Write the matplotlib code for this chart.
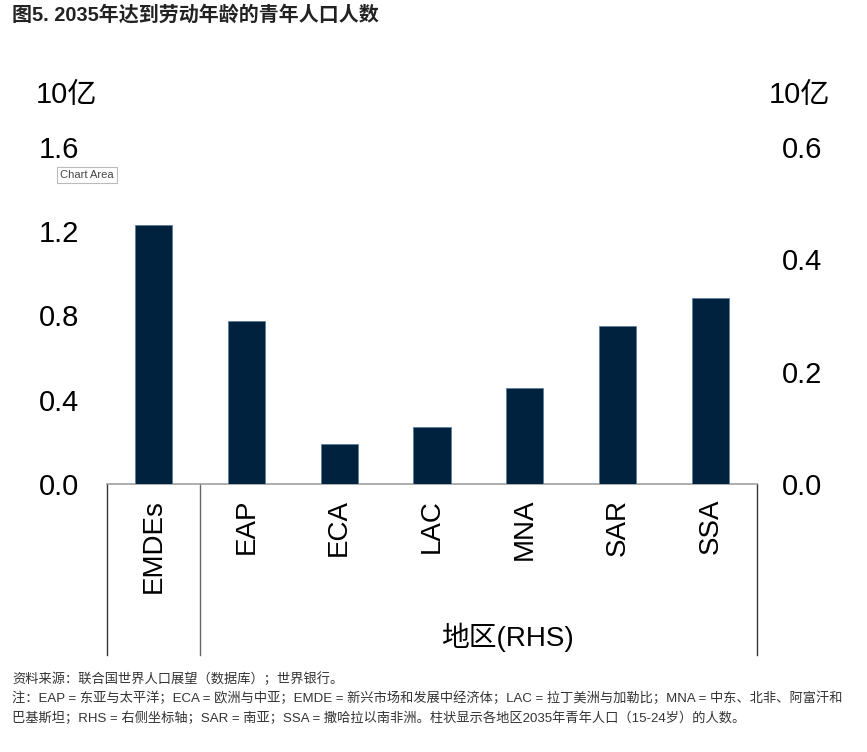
import matplotlib
matplotlib.use("Agg")
import matplotlib.pyplot as plt
from matplotlib.transforms import blended_transform_factory

plt.rcParams['font.family'] = ['Liberation Sans', 'Noto Sans CJK SC', 'DejaVu Sans']

categories = ["EMDEs", "EAP", "ECA", "LAC", "MNA", "SAR", "SSA"]
emde_value = [1.23]                     # left axis (billions)
region_values = [0.29, 0.071, 0.101, 0.171, 0.281, 0.331]  # right axis (billions)
left_ticks = [0.0, 0.4, 0.8, 1.2, 1.6]
right_ticks = [0.0, 0.2, 0.4, 0.6]

title = "图5. 2035年达到劳动年龄的青年人口人数"
unit = "10亿"
region_label = "地区(RHS)"
notes = [
    "资料来源：联合国世界人口展望（数据库）；世界银行。",
    "注：EAP = 东亚与太平洋；ECA = 欧洲与中亚；EMDE = 新兴市场和发展中经济体；LAC = 拉丁美洲与加勒比；MNA = 中东、北非、阿富汗和",
    "巴基斯坦；RHS = 右侧坐标轴；SAR = 南亚；SSA = 撒哈拉以南非洲。柱状显示各地区2035年青年人口（15-24岁）的人数。",
]

W, H = 867, 752
fig = plt.figure(figsize=(W / 100, H / 100), dpi=100)
x0, x1, yb, yt = 107, 757, 484, 147
ax = fig.add_axes([x0 / W, 1 - yb / H, (x1 - x0) / W, (yb - yt) / H])
ax2 = ax.twinx()

bar_color = "#00223F"
bw = 0.4
ax.bar([0], emde_value, width=bw, color=bar_color, edgecolor="#5f7f9a", linewidth=0.6, zorder=3)
ax2.bar(range(1, len(categories)), region_values, width=bw, color=bar_color,
        edgecolor="#5f7f9a", linewidth=0.6, zorder=3)

ax.set_xlim(-0.5, len(categories) - 0.5)
ax.set_ylim(0, 1.6)
ax2.set_ylim(0, 0.6)
ax.set_yticks(left_ticks)
ax.set_yticklabels([f"{v:.1f}" for v in left_ticks])
ax2.set_yticks(right_ticks)
ax2.set_yticklabels([f"{v:.1f}" for v in right_ticks])
for a in (ax, ax2):
    for s in a.spines.values():
        s.set_visible(False)
    a.tick_params(axis='y', length=0, labelsize=21, colors="black")
    a.tick_params(axis='x', length=0, labelbottom=False)
ax.tick_params(axis='y', pad=20)
ax2.tick_params(axis='y', pad=18)
ax.spines['bottom'].set_visible(True)
ax.spines['bottom'].set_color("#A0A0A0")
ax.spines['bottom'].set_linewidth(1.2)

trans = blended_transform_factory(ax.transData, ax.transAxes)
# separator lines below axis
ybot = -(655 - yb) / (yb - yt)
for xv, col in [(-0.5, "#333333"), (0.5, "#666666"), (len(categories) - 0.5, "#333333")]:
    ax.plot([xv, xv], [0, ybot], transform=trans, color=col, lw=1.0, clip_on=False)

ylab = -(499 - yb) / (yb - yt)
for i, c in enumerate(categories):
    ax.text(i, ylab, c, transform=trans, rotation=90, ha="center", va="top", fontsize=20)

fig.text(507 / W, 1 - 637 / H, region_label, ha="center", va="center", fontsize=20)

fig.text(66 / W, 1 - 95 / H, unit, ha="center", va="center", fontsize=21)
fig.text(799 / W, 1 - 95 / H, unit, ha="center", va="center", fontsize=21)

fig.text(12 / W, 1 - 15 / H, title, ha="left", va="center", fontsize=14.4, fontweight="bold",
         color="#222222")

fig.text(60 / W, 1 - 175 / H, "Chart Area", ha="left", va="center", fontsize=8, color="#444444",
         bbox=dict(boxstyle="square,pad=0.3", facecolor="white", edgecolor="#BBBBBB", linewidth=0.8))

for k, line in enumerate(notes):
    fig.text(12 / W, 1 - (679 + k * 19.5) / H, line, ha="left", va="center", fontsize=9.5,
             color="#333333")

fig.savefig("out.png", dpi=100)
